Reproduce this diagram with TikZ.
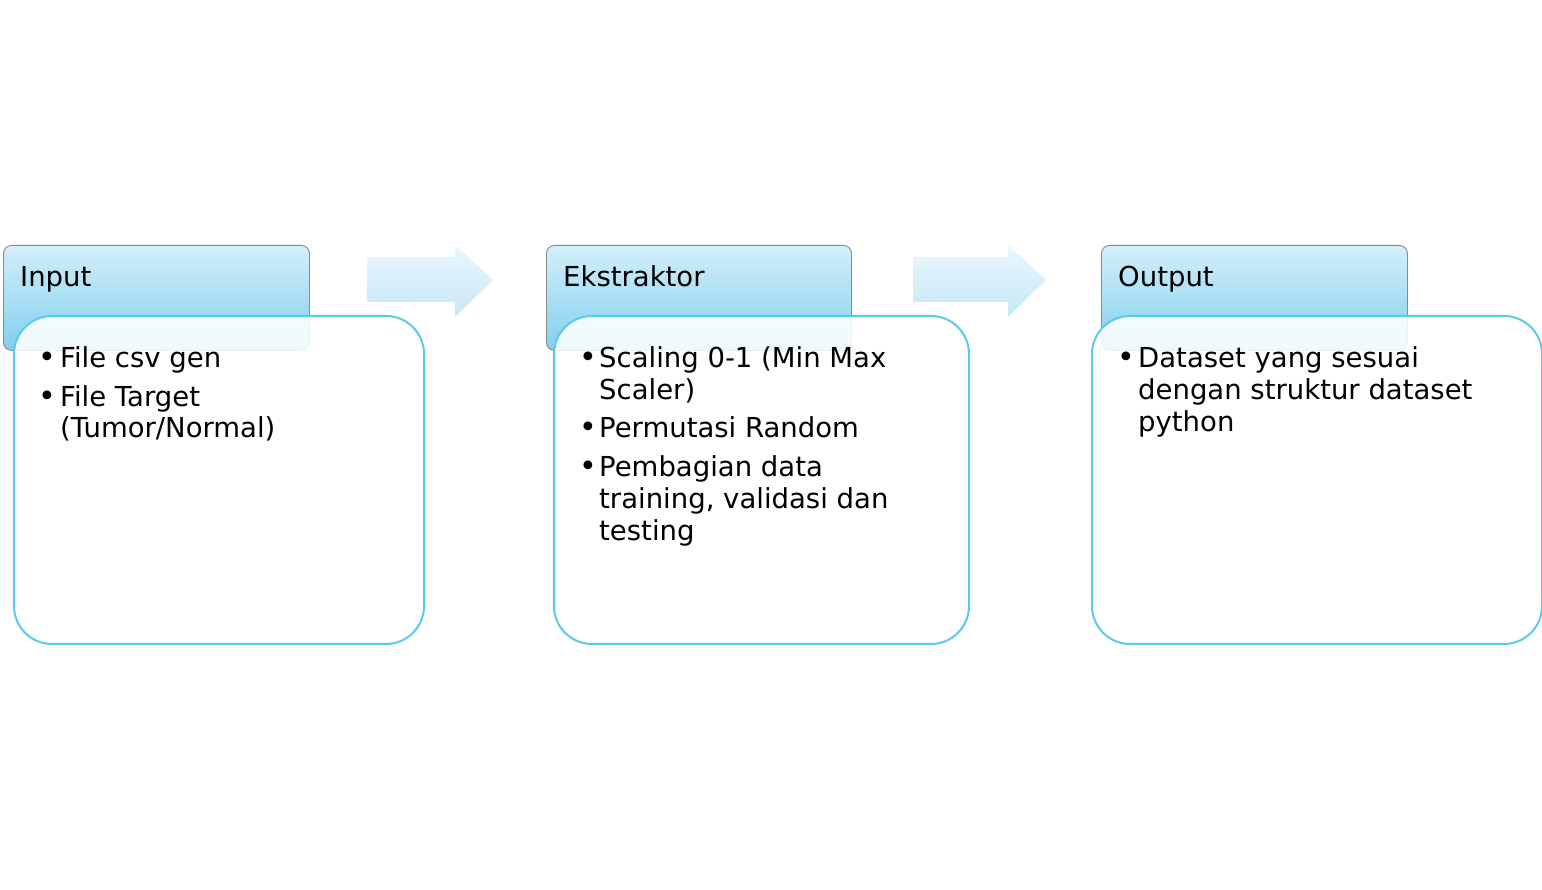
\documentclass[tikz,border=0pt]{standalone}
\usepackage{fontspec}
\setmainfont{DejaVu Sans}
\begin{document}
\begin{tikzpicture}[x=1pt,y=1pt,
  hdr/.style={draw=hdrborder, line width=0.9pt, rounded corners=8pt, top color=hdrtop, bottom color=hdrbot, anchor=north west, inner sep=0pt},
  bodybox/.style={draw=bodyline, line width=2pt, rounded corners=38pt, fill=white, fill opacity=0.88, anchor=north west, inner sep=0pt},
  ttl/.style={anchor=base west, inner sep=0pt, font=\fontsize{27.5}{32}\selectfont},
  txt/.style={anchor=base west, inner sep=0pt, font=\fontsize{27.5}{32}\selectfont},
  bul/.style={anchor=base, inner sep=0pt, font=\fontsize{30}{32}\selectfont},
  flow/.style={top color=arrtop, bottom color=arrbot}
]
\definecolor{hdrborder}{HTML}{8A8A8A}
\definecolor{hdrtop}{HTML}{D4EFF9}
\definecolor{hdrbot}{HTML}{80CFEE}
\definecolor{bodyline}{HTML}{5CC9EE}
\definecolor{arrtop}{HTML}{EBF7FD}
\definecolor{arrbot}{HTML}{C6E7F7}
\useasboundingbox (0,0) rectangle (1542,889);
\fill[white] (0,0) rectangle (1542,889);

% headers
\node[hdr, minimum width=306pt, minimum height=105pt] (h1) at (3,644) {};
\node[hdr, minimum width=305pt, minimum height=105pt] (h2) at (546,644) {};
\node[hdr, minimum width=306pt, minimum height=105pt] (h3) at (1101,644) {};

% flow arrows
\shade[flow] (367,632) -- (455,632) -- (455,644) -- (493,609) -- (455,572) -- (455,587) -- (367,587) -- cycle;
\shade[flow] (913,632) -- (1008,632) -- (1008,644) -- (1046,609) -- (1008,572) -- (1008,587) -- (913,587) -- cycle;

% bodies
\node[bodybox, minimum width=410pt, minimum height=328pt] (b1) at (13,574) {};
\node[bodybox, minimum width=415pt, minimum height=328pt] (b2) at (553,574) {};
\node[bodybox, minimum width=450pt, minimum height=328pt] (b3) at (1091,574) {};

% titles
\node[ttl] (t1) at (20,602) {Input};
\node[ttl] (t2) at (563,602) {Ekstraktor};
\node[ttl] (t3) at (1118,602) {Output};

% Input items
\node[bul] (u11) at (47,521) {•};
\node[txt] (l11) at (60,521) {File csv gen};
\node[bul] (u12) at (47,482) {•};
\node[txt] (l12) at (60,482) {File Target};
\node[txt] (l13) at (60,451) {(Tumor/Normal)};

% Ekstraktor items
\node[bul] (u21) at (588,521) {•};
\node[txt] (l21) at (599,521) {Scaling 0-1 (Min Max};
\node[txt] (l22) at (599,489) {Scaler)};
\node[bul] (u22) at (588,451) {•};
\node[txt] (l23) at (599,451) {Permutasi Random};
\node[bul] (u23) at (588,412) {•};
\node[txt] (l24) at (599,412) {Pembagian data};
\node[txt] (l25) at (599,380) {training, validasi dan};
\node[txt] (l26) at (599,348) {testing};

% Output items
\node[bul] (u31) at (1126,521) {•};
\node[txt] (l31) at (1138,521) {Dataset yang sesuai};
\node[txt] (l32) at (1138,489) {dengan struktur dataset};
\node[txt] (l33) at (1138,457) {python};
\end{tikzpicture}
\end{document}
